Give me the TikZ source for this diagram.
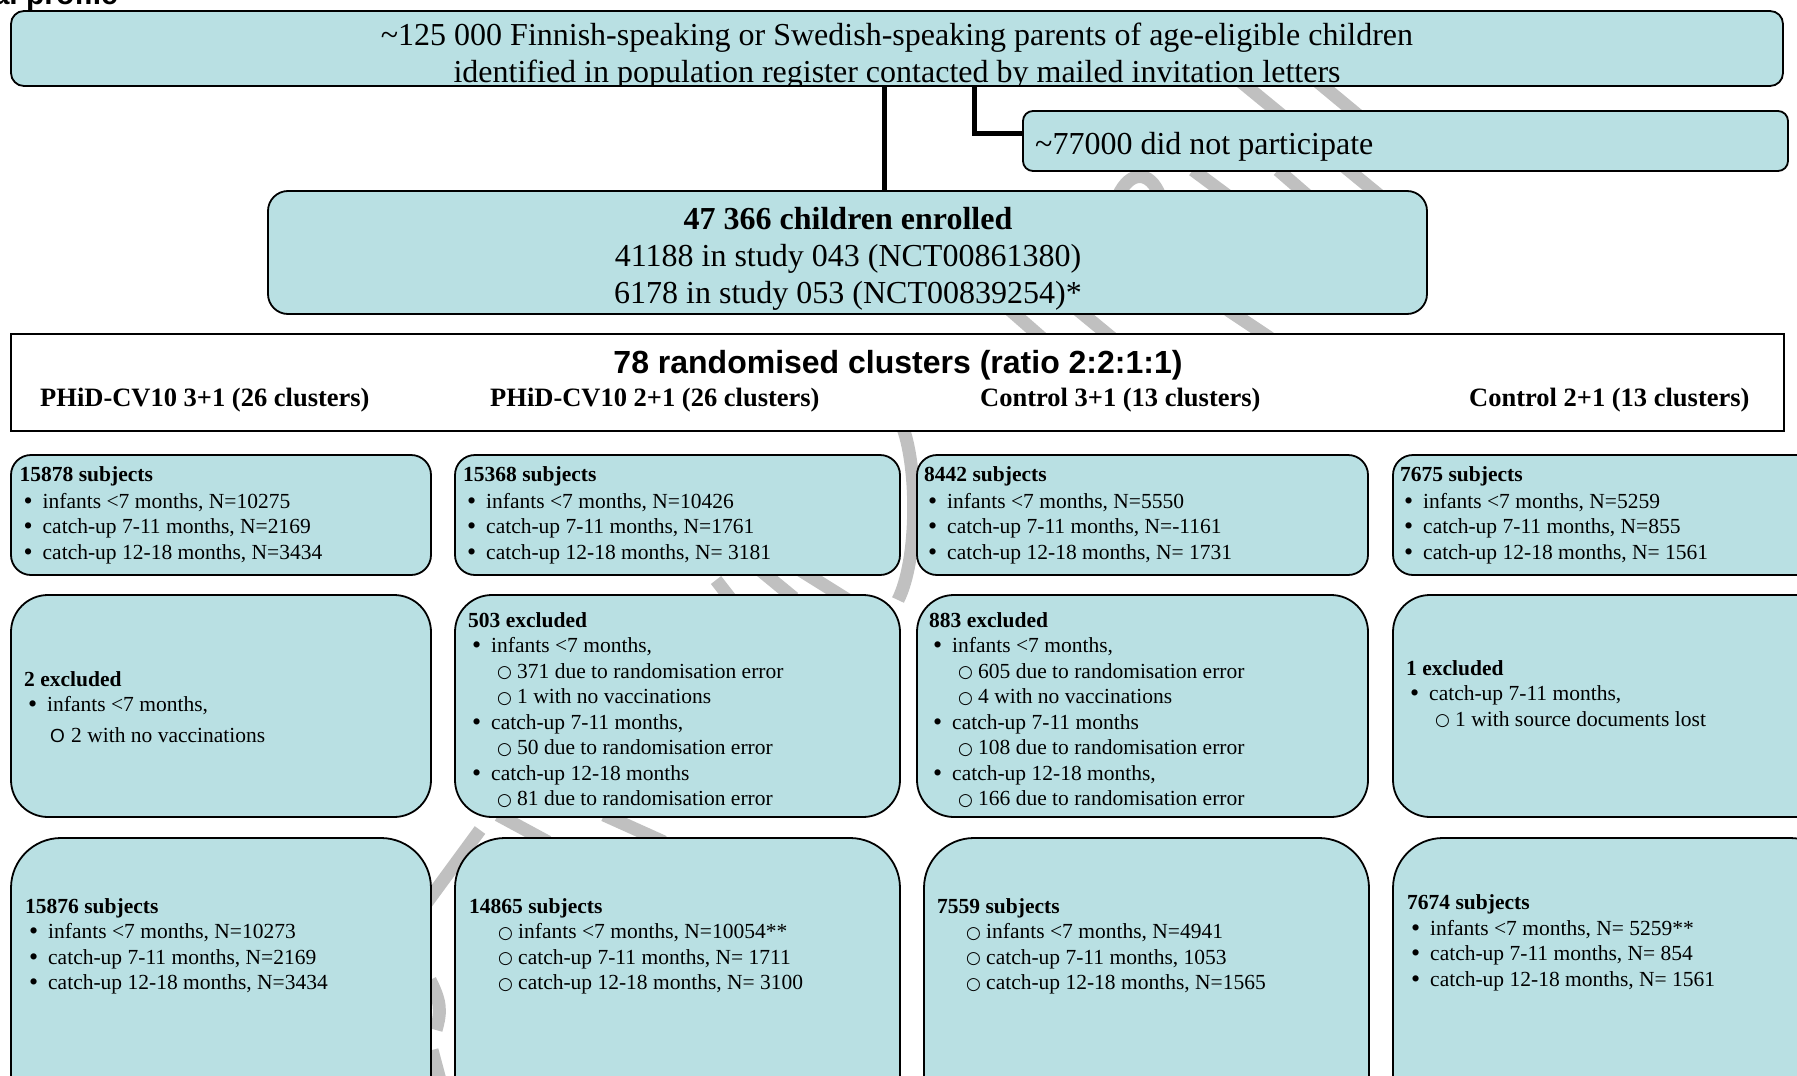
\documentclass[tikz,border=0pt]{standalone}
\usepackage{fontspec}
\setmainfont{Liberation Serif}
\setsansfont{Liberation Sans}
\setmonofont{Liberation Mono}
\newfontfamily\symfont{DejaVu Sans}
\definecolor{boxfill}{RGB}{185,224,227}
\definecolor{wm}{RGB}{192,192,192}
\newcommand\rowfont{\fontsize{21.5}{25.5}\selectfont}
\newcommand\bigfont{\fontsize{32}{37}\selectfont}
\newcommand\Bul{\strut\hspace*{4pt}\makebox[19pt][l]{\raisebox{-1pt}{\fontsize{26}{26}\selectfont\textbullet}}}
\newcommand\Sub{\strut\hspace*{29pt}\makebox[20pt][l]{\raisebox{0.5pt}{\fontsize{17}{17}\selectfont\symfont ○}}}
\newcommand\Hd[1]{\strut\textbf{#1}}
\tikzset{
  rbox/.style={draw=black, line width=1.8pt, fill=boxfill, rounded corners=#1, inner sep=0pt},
  sbox/.style={draw=black, line width=1.8pt, fill=white, inner sep=0pt},
  txt/.style={anchor=north west, inner sep=0pt, align=left, font=\rowfont},
  conn/.style={draw=black, line width=5pt},
  wmk/.style={draw=wm, line width=13pt},
  lbl/.style={anchor=base west, inner sep=0pt, font=\fontsize{26.5}{30}\selectfont\bfseries}
}
\begin{document}
\begin{tikzpicture}[x=1pt,y=-1pt]
\useasboundingbox (0,0) rectangle (1797,1076);
% watermark strokes (behind)
\draw[wmk] (1240,81) -- (1385,200);
\draw[wmk] (1318,82) -- (1365,121);
\draw[wmk] (1118,196) .. controls (1130,170) and (1150,170) .. (1160,196);
\draw[wmk] (1193,170) -- (1228,196);
\draw[wmk] (1278,170) -- (1308,196);
\draw[wmk] (1010,310) -- (1042,338);
\draw[wmk] (1078,310) -- (1112,338);
\draw[wmk] (1228,310) -- (1270,338);
\draw[wmk] (903,428) .. controls (918,470) and (918,560) .. (898,600);
\draw[wmk] (716,580) -- (730,598);
\draw[wmk] (760,570) -- (794,598);
\draw[wmk] (800,570) -- (848,600);
\draw[wmk] (498,815) -- (548,842);
\draw[wmk] (604,815) -- (664,842);
\draw[wmk] (480,830) -- (425,905);
\draw[wmk] (430,980) .. controls (440,1000) and (442,1010) .. (436,1030);
\draw[wmk] (432,1050) -- (440,1080);

% title fragment
\node[anchor=base east, inner sep=0pt, font=\fontsize{30}{34}\selectfont\sffamily\bfseries] (ttl) at (118,5) {Trial profile};

% top box
\node[rbox=13pt, minimum width=1772pt, minimum height=75pt] (top) at (897,48.5) {};
\begin{scope}
\clip (12,12) rectangle (1782,84);
\node[inner sep=0pt, align=center, font=\bigfont] (toptext) at (897,57) {\strut\textasciitilde125 000 Finnish-speaking or Swedish-speaking parents of age-eligible children\\ \strut identified in population register contacted by mailed invitation letters};
\end{scope}

% did not participate
\node[rbox=10pt, minimum width=765pt, minimum height=60pt] (np) at (1405.5,141) {};
\node[anchor=base west, inner sep=0pt, font=\bigfont] (nptext) at (1035,154) {\textasciitilde77000 did not participate};

% enrolled
\node[rbox=20pt, minimum width=1159pt, minimum height=123pt] (enr) at (847.5,252.5) {};
\node[inner sep=0pt, align=center, font=\fontsize{32}{36.7}\selectfont] (enrtext) at (848,259)
 {\strut\textbf{47 366 children enrolled}\\ \strut 41188 in study 043 (NCT00861380)\\ \strut 6178 in study 053 (NCT00839254)*};

% connectors
\coordinate (vx) at (884,0);
\coordinate (ex) at (974,0);
\draw[conn] (top.south -| vx) -- (enr.north -| vx);
\draw[conn] (top.south -| ex) |- ([yshift=8pt]np.west);

% randomised
\node[sbox, minimum width=1773pt, minimum height=97pt] (rand) at (897.5,382.5) {};
\node[anchor=base, inner sep=0pt, font=\fontsize{32}{36}\selectfont\sffamily\bfseries] (randt) at (898,373) {78 randomised clusters (ratio 2:2:1:1)};
\node[lbl] (g1) at (40,406) {PHiD-CV10 3+1 (26 clusters)};
\node[lbl] (g2) at (490,406) {PHiD-CV10 2+1 (26 clusters)};
\node[lbl] (g3) at (980,406) {Control 3+1 (13 clusters)};
\node[lbl] (g4) at (1469,406) {Control 2+1 (13 clusters)};

% row 1
\node[rbox=20pt, minimum width=420pt, minimum height=120pt] (a1) at (221,515) {};
\node[rbox=20pt, minimum width=445pt, minimum height=120pt] (a2) at (677.5,515) {};
\node[rbox=20pt, minimum width=451pt, minimum height=120pt] (a3) at (1142.5,515) {};
\node[rbox=20pt, minimum width=447pt, minimum height=120pt] (a4) at (1616.5,515) {};
\node[txt] (ta1) at (19.5,463.5) {\Hd{15878 subjects}\\[1pt] \Bul infants <7 months, N=10275\\ \Bul catch-up 7-11 months, N=2169\\ \Bul catch-up 12-18 months, N=3434};
\node[txt] (ta2) at (463,463.5) {\Hd{15368 subjects}\\[1pt] \Bul infants <7 months, N=10426\\ \Bul catch-up 7-11 months, N=1761\\ \Bul catch-up 12-18 months, N= 3181};
\node[txt] (ta3) at (924,463.5) {\Hd{8442 subjects}\\[1pt] \Bul infants <7 months, N=5550\\ \Bul catch-up 7-11 months, N=-1161\\ \Bul catch-up 12-18 months, N= 1731};
\node[txt] (ta4) at (1400,463.5) {\Hd{7675 subjects}\\[1pt] \Bul infants <7 months, N=5259\\ \Bul catch-up 7-11 months, N=855\\ \Bul catch-up 12-18 months, N= 1561};

% row 2
\node[rbox=37pt, minimum width=420pt, minimum height=222pt] (b1) at (221,706) {};
\node[rbox=37pt, minimum width=445pt, minimum height=222pt] (b2) at (677.5,706) {};
\node[rbox=37pt, minimum width=451pt, minimum height=222pt] (b3) at (1142.5,706) {};
\node[rbox=37pt, minimum width=447pt, minimum height=222pt] (b4) at (1616.5,706) {};
\node[txt] (tb1) at (24,668) {\Hd{2 excluded}\\ \Bul infants <7 months,\\[5pt] \strut\hspace*{26pt}\makebox[21pt][l]{\fontsize{19}{19}\selectfont\sffamily O}2 with no vaccinations};
\node[txt] (tb2) at (468,609) {\Hd{503 excluded}\\ \Bul infants <7 months,\\ \Sub 371 due to randomisation error\\ \Sub 1 with no vaccinations\\ \Bul catch-up 7-11 months,\\ \Sub 50 due to randomisation error\\ \Bul catch-up 12-18 months\\ \Sub 81 due to randomisation error};
\node[txt] (tb3) at (929,609) {\Hd{883 excluded}\\ \Bul infants <7 months,\\ \Sub 605 due to randomisation error\\ \Sub 4 with no vaccinations\\ \Bul catch-up 7-11 months\\ \Sub 108 due to randomisation error\\ \Bul catch-up 12-18 months,\\ \Sub 166 due to randomisation error};
\node[txt] (tb4) at (1406,657) {\Hd{1 excluded}\\ \Bul catch-up 7-11 months,\\ \Sub 1 with source documents lost};

% row 3
\node[rbox=50pt, minimum width=420pt, minimum height=300pt] (c1) at (221,988) {};
\node[rbox=50pt, minimum width=445pt, minimum height=300pt] (c2) at (677.5,988) {};
\node[rbox=50pt, minimum width=445pt, minimum height=300pt] (c3) at (1146.5,988) {};
\node[rbox=50pt, minimum width=447pt, minimum height=300pt] (c4) at (1616.5,988) {};
\node[txt] (tc1) at (25,895) {\Hd{15876 subjects}\\ \Bul infants <7 months, N=10273\\ \Bul catch-up 7-11 months, N=2169\\ \Bul catch-up 12-18 months, N=3434};
\node[txt] (tc2) at (469,895) {\Hd{14865 subjects}\\ \Sub infants <7 months, N=10054**\\ \Sub catch-up 7-11 months, N= 1711\\ \Sub catch-up 12-18 months, N= 3100};
\node[txt] (tc3) at (937,895) {\Hd{7559 subjects}\\ \Sub infants <7 months, N=4941\\ \Sub catch-up 7-11 months, 1053\\ \Sub catch-up 12-18 months, N=1565};
\node[txt] (tc4) at (1407,891.5) {\Hd{7674 subjects}\\ \Bul infants <7 months, N= 5259**\\ \Bul catch-up 7-11 months, N= 854\\ \Bul catch-up 12-18 months, N= 1561};
\end{tikzpicture}
\end{document}
